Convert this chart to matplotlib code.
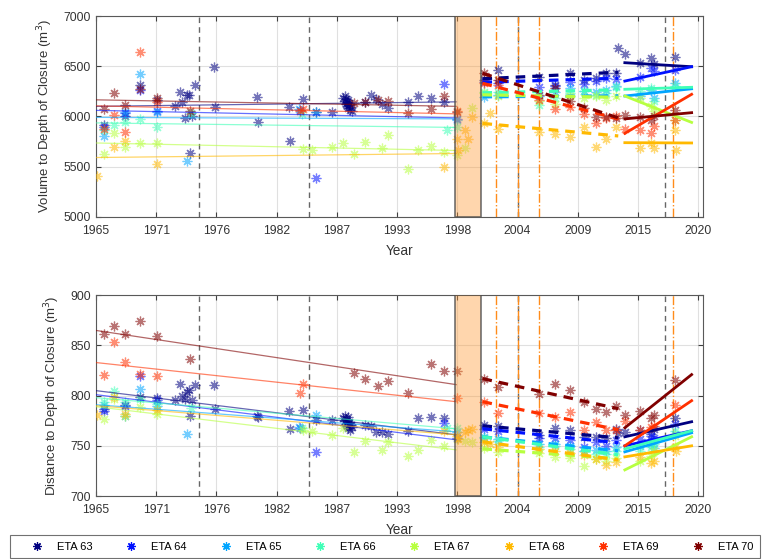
import numpy as np
import matplotlib
matplotlib.use('Agg')
import matplotlib.pyplot as plt
from matplotlib import cm
from matplotlib.lines import Line2D

plt.rcParams['font.family'] = ['Liberation Sans', 'DejaVu Sans']

# ---- survey data ----
names = ['ETA 63', 'ETA 64', 'ETA 65', 'ETA 66', 'ETA 67', 'ETA 68', 'ETA 69', 'ETA 70']

years_63 = [1965.76, 1967.68, 1969.02, 1970.6, 1972.25, 1972.7, 1972.9, 1973.1, 1973.3, 1973.5, 1973.6, 1973.8,
            1974.0, 1975.8, 1975.9, 1979.7, 1979.8, 1982.6, 1982.7, 1983.9, 1985.1, 1986.6,
            1987.6, 1987.7, 1987.75, 1987.8, 1987.85, 1987.9, 1987.95, 1988.0, 1988.05, 1988.1, 1988.15,
            1988.2, 1988.3, 1988.4, 1989.6, 1990.1, 1990.6, 1991.1, 1991.7, 1993.5, 1994.4, 1995.6, 1996.8,
            2000.4, 2001.7, 2005.5, 2006.9, 2008.3, 2009.6, 2010.7, 2011.6, 2012.5, 2012.7, 2013.3,
            2014.7, 2015.7, 2016.0, 2017.9]
vol_63 = [5910, 6004, 6313, 6163, 6104, 6246, 6147, 5981, 6213, 6213, 5639, 6004,
          6313, 6489, 6097, 6196, 5947, 6090, 5755, 6173, 6047, 6047,
          6180, 6150, 6200, 6120, 6170, 6100, 6140, 6080, 6160, 6110, 6130,
          6060, 6090, 6050, 6140, 6213, 6170, 6120, 6080, 6146, 6203, 6180, 6146,
          6362, 6462, 6396, 6313, 6429, 6362, 6379, 6429, 6429, 6678, 6621,
          6528, 6578, 6520, 6595]
dist_63 = [787, 791, 799, 798, 796, 812, 800, 797, 804, 806, 780, 796,
           811, 811, 787, 780, 779, 785, 767, 786, 776, 776,
           778, 775, 780, 772, 777, 770, 776, 768, 779, 773, 774,
           766, 771, 769, 771, 770, 764, 764, 762, 765, 778, 779, 778,
           771, 770, 761, 768, 766, 759, 759, 758, 767, 763, 764,
           766, 762, 767, 778]

years_64 = [1965.76, 1967.68, 1969.02, 1970.6, 1983.6, 1985.1, 1996.8, 1998.0, 2000.4, 2001.7, 2005.5,
            2006.9, 2008.3, 2009.6, 2010.7, 2011.6, 2012.5, 2014.7, 2015.7, 2016.0, 2017.9]
vol_64 = [5895, 6037, 6263, 6050, 6060, 5383, 6320, 5975, 6340, 6330, 6296,
          6300, 6346, 6320, 6350, 6380, 6370, 6396, 6480, 6450, 6460]
dist_64 = [785, 790, 820, 796, 768, 744, 773, 758, 767, 765, 758,
           758, 756, 749, 754, 750, 756, 757, 760, 758, 772]

years_65 = [1965.76, 1967.68, 1969.02, 1970.6, 1973.3, 1983.5, 1985.1, 1998.0, 2000.4, 2001.7, 2005.5,
            2006.9, 2008.3, 2009.6, 2010.7, 2011.6, 2012.5, 2014.7, 2015.7, 2016.0, 2017.9]
vol_65 = [5805, 6047, 6422, 6047, 5556, 6070, 6047, 5960, 6196, 6213, 6200,
          6240, 6280, 6250, 6240, 6260, 6300, 6200, 6260, 6180, 6329]
dist_65 = [791, 780, 807, 790, 762, 769, 781, 764, 759, 757, 752,
           752, 750, 745, 746, 745, 749, 750, 752, 748, 762]

years_66 = [1965.76, 1966.6, 1967.68, 1969.02, 1970.6, 1973.7, 1983.8, 1997.1, 1998.0, 2000.4, 2001.7,
            2005.5, 2006.9, 2008.3, 2009.6, 2010.7, 2011.6, 2012.5, 2014.7, 2015.7, 2016.0, 2017.9]
vol_66 = [5860, 5914, 5948, 5971, 5898, 6030, 6024, 5864, 5897, 6246, 6246,
          6113, 6180, 6230, 6250, 6210, 6230, 6290, 6250, 6280, 6150, 6300]
dist_66 = [794, 805, 794, 797, 792, 788, 768, 768, 768, 758, 755,
           749, 750, 747, 745, 742, 742, 745, 745, 749, 752, 765]

years_67 = [1965.76, 1966.6, 1967.68, 1969.02, 1970.6, 1983.9, 1984.7, 1986.6, 1987.6, 1988.6, 1989.6,
            1991.1, 1991.7, 1993.5, 1994.4, 1995.6, 1996.8, 1998.0, 1998.7, 1999.3, 2000.4, 2001.7,
            2005.5, 2006.9, 2008.3, 2009.6, 2010.7, 2011.6, 2012.5, 2014.7, 2015.7, 2016.0, 2017.9]
vol_67 = [5622, 5838, 5692, 5732, 5732, 5672, 5665, 5692, 5738, 5622, 5748,
          5682, 5815, 5473, 5665, 5705, 5648, 5615, 5682, 6080, 6230, 6200,
          6150, 6120, 6200, 6180, 6200, 6160, 6200, 6180, 6100, 6050, 5960]
dist_67 = [777, 797, 780, 789, 782, 766, 765, 761, 768, 744, 755,
           746, 754, 740, 746, 756, 750, 757, 755, 754, 748, 744,
           743, 739, 738, 730, 737, 735, 738, 735, 740, 745, 760]

years_68 = [1965.06, 1966.6, 1967.68, 1970.6, 1996.8, 1998.0, 1998.1, 1998.7, 1999.0, 1999.3, 2000.4,
            2001.0, 2001.7, 2005.5, 2006.9, 2008.3, 2009.6, 2010.7, 2011.6, 2012.5, 2014.7, 2015.7,
            2016.0, 2017.9, 2018.0]
vol_68 = [5410, 5698, 5758, 5526, 5492, 5771, 5665, 5864, 5771, 5990, 5931,
          6037, 5874, 5848, 5825, 5798, 5898, 5692, 5772, 5898, 5682, 5732,
          5680, 5865, 5665]
dist_68 = [781, 799, 782, 786, 765, 760, 757, 764, 766, 767, 754,
           752, 749, 747, 745, 743, 741, 737, 731, 734, 739, 733,
           735, 749, 745]

years_69 = [1965.76, 1966.6, 1967.68, 1969.02, 1970.6, 1983.6, 1983.9, 1998.0, 2000.4, 2001.7, 2005.5,
            2006.9, 2008.3, 2009.6, 2010.7, 2011.6, 2012.5, 2013.3, 2014.7, 2015.7, 2016.0, 2017.9]
vol_69 = [5874, 6014, 5848, 6645, 6147, 6057, 6070, 6050, 6329, 6313, 6163,
          6070, 6097, 6020, 5931, 5980, 6000, 5870, 5865, 5831, 5900, 5960]
dist_69 = [821, 853, 834, 822, 820, 803, 812, 798, 794, 783, 783,
           779, 784, 766, 774, 766, 766, 775, 766, 769, 770, 791]

years_70 = [1965.76, 1966.6, 1967.68, 1969.02, 1970.6, 1973.6, 1988.6, 1989.6, 1990.8, 1991.7, 1993.5,
            1995.6, 1996.8, 1998.0, 2000.4, 2001.7, 2005.5, 2006.9, 2008.3, 2009.6, 2010.7, 2011.6,
            2012.5, 2013.3, 2014.7, 2015.7, 2016.0, 2017.9]
vol_70 = [6074, 6236, 6113, 6270, 6180, 6057, 6130, 6146, 6160, 6156, 6030,
          6070, 6203, 6047, 6429, 6362, 6213, 6280, 6150, 6080, 5997, 5990,
          5980, 6010, 5997, 5964, 6000, 6064]
dist_70 = [861, 869, 861, 874, 859, 837, 823, 817, 810, 815, 803,
           832, 825, 825, 817, 809, 802, 812, 806, 794, 787, 784,
           790, 781, 785, 778, 781, 816]

# trend periods (start, end year) and trend values per ETA (63..70)
period1 = [1965.0, 1997.9]
period2 = [2000.3, 2012.7]
period3 = [2013.3, 2019.4]

vol_p1_start = [6100, 6060, 5990, 5935, 5735, 5590, 6105, 6165]
vol_p1_end = [6145, 5985, 5975, 5890, 5660, 5630, 6025, 6100]
vol_p2_start = [6375, 6340, 6195, 6235, 6215, 5930, 6330, 6430]
vol_p2_end = [6440, 6380, 6205, 6265, 6190, 5805, 5975, 5985]
vol_p3_start = [6535, 6352, 6203, 6270, 6203, 5738, 5831, 5975]
vol_p3_end = [6495, 6495, 6275, 6290, 5940, 5735, 6220, 6037]

dist_p1_start = [805, 801, 791, 798, 789, 790, 833, 865]
dist_p1_end = [761, 756, 764, 767, 746, 761, 794, 811]
dist_p2_start = [770, 767, 759, 759, 747, 754, 794, 817]
dist_p2_end = [758, 753, 745, 741, 737, 736, 766, 787]
dist_p3_start = [759, 750, 744, 747, 726, 739, 750, 768]
dist_p3_end = [774, 765, 763, 765, 759, 750, 795, 821]

# events
gray_events = [1974.4, 1984.5, 2003.5, 2017.0]
orange_events = [2001.5, 2003.5, 2005.5, 2017.7]
shade = [1997.8, 2000.2]

xtick_pos = [1965 + 5.5 * k for k in range(11)]
xtick_lab = ['1965', '1971', '1976', '1982', '1987', '1993', '1998', '2004', '2009', '2015', '2020']

colors = cm.jet(np.linspace(0, 1, 8))
all_years = [years_63, years_64, years_65, years_66, years_67, years_68, years_69, years_70]
all_vol = [vol_63, vol_64, vol_65, vol_66, vol_67, vol_68, vol_69, vol_70]
all_dist = [dist_63, dist_64, dist_65, dist_66, dist_67, dist_68, dist_69, dist_70]

star = (8, 2, 0)

fig = plt.figure(figsize=(7.63, 5.59), dpi=100)
ax1 = fig.add_axes([0.1258, 0.6123, 0.795, 0.359])
ax2 = fig.add_axes([0.1258, 0.1127, 0.795, 0.359])


def draw(ax, vals, p1s, p1e, p2s, p2e, p3s, p3e, ylim, yticks, ylabel):
    for i in range(8):
        ax.plot(all_years[i], vals[i], linestyle='none', marker=star, ms=7, mew=0.9,
                color=colors[i], alpha=0.55, zorder=3)
    for i in range(8):
        ax.plot(period1, [p1s[i], p1e[i]], '-', color=colors[i], lw=0.9, alpha=0.6, zorder=4)
        ax.plot(period2, [p2s[i], p2e[i]], color=colors[i], lw=2.3, linestyle=(0, (3, 2.2)), zorder=4)
        ax.plot(period3, [p3s[i], p3e[i]], '-', color=colors[i], lw=2.0, zorder=4)
    for e in gray_events:
        ax.axvline(e, color='0.4', lw=1, linestyle=(0, (4, 3)), zorder=2)
    for e in orange_events:
        ax.axvline(e, color=(1, 0.55, 0.1), lw=1, linestyle='-.', zorder=2.5)
    ax.axvspan(shade[0], shade[1], facecolor=(1, 0.6, 0.2, 0.4),
               edgecolor=(0.3, 0.3, 0.3, 0.8), lw=1.2, zorder=5)
    ax.set_xlim(1965, 2020.4)
    ax.set_ylim(*ylim)
    ax.set_yticks(yticks)
    ax.set_xticks(xtick_pos)
    ax.set_xticklabels(xtick_lab)
    ax.grid(True, color='0.88', lw=0.8)
    ax.set_axisbelow(True)
    ax.tick_params(direction='in', length=3.5, top=True, right=True,
                   labelsize=8.8, colors='0.25', labelcolor='0.2')
    ax.tick_params(axis='x', pad=6)
    for s in ax.spines.values():
        s.set_color('0.35')
    ax.set_xlabel('Year', fontsize=9.8, color='0.2', labelpad=5)
    ax.set_ylabel(ylabel, fontsize=9.5, color='0.2', labelpad=6)


draw(ax1, all_vol, vol_p1_start, vol_p1_end, vol_p2_start, vol_p2_end, vol_p3_start, vol_p3_end,
     (5000, 7000), [5000, 5500, 6000, 6500, 7000], 'Volume to Depth of Closure (m$^3$)')
draw(ax2, all_dist, dist_p1_start, dist_p1_end, dist_p2_start, dist_p2_end, dist_p3_start, dist_p3_end,
     (700, 900), [700, 750, 800, 850, 900], 'Distance to Depth of Closure (m$^3$)')

handles = [Line2D([], [], linestyle='none', marker=star, ms=6, mew=0.9, color=colors[i])
           for i in range(8)]
leg = fig.legend(handles, names, loc='upper left', bbox_to_anchor=(10 / 763, 1 - 535 / 559),
                 ncol=8, fontsize=8.0, frameon=True, fancybox=False, edgecolor='0.3',
                 handlelength=3.6, handletextpad=0.0, columnspacing=1.7, borderpad=0.6,
                 borderaxespad=0)
leg.get_frame().set_linewidth(0.8)

fig.savefig('out.png', dpi=100)
